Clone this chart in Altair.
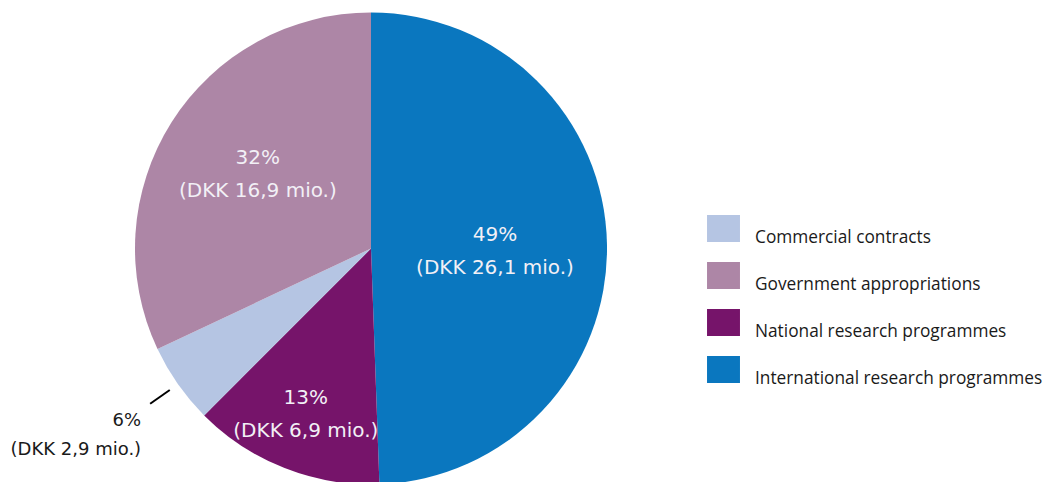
import altair as alt
import pandas as pd

# ---- data ----
categories = [
    "International research programmes",
    "National research programmes",
    "Commercial contracts",
    "Government appropriations",
]
amounts = [26.1, 6.9, 2.9, 16.9]          # DKK mio.
percent_labels = ["49%", "13%", "6%", "32%"]
amount_labels = ["DKK 26,1 mio.", "DKK 6,9 mio.", "DKK 2,9 mio.", "DKK 16,9 mio."]
legend_order = [
    "Commercial contracts",
    "Government appropriations",
    "National research programmes",
    "International research programmes",
]
legend_colors = ["#b5c5e3", "#ad86a6", "#76146a", "#0a77bf"]

# ---- layout constants (not data) ----
CX, CY, R = 371, 248.5, 236
label_radius = {
    "International research programmes": 124,
    "National research programmes": 178,
    "Commercial contracts": 270,
    "Government appropriations": 134,
}
label_nudge = {
    "International research programmes": 5,
    "National research programmes": 0,
    "Commercial contracts": 0,
    "Government appropriations": -2,
}
outside = "Commercial contracts"

df = pd.DataFrame({
    "category": categories,
    "amount": amounts,
    "order": list(range(len(categories))),
    "label": [f"{p}\n({a})" for p, a in zip(percent_labels, amount_labels)],
    "lr": [label_radius[c] for c in categories],
    "nudge": [label_nudge[c] for c in categories],
})

base = alt.Chart(df)

arcs = base.mark_arc(outerRadius=R, strokeWidth=0).encode(
    theta=alt.Theta("amount:Q", stack=True),
    order=alt.Order("order:Q"),
    color=alt.Color(
        "category:N",
        scale=alt.Scale(domain=legend_order, range=legend_colors),
        legend=alt.Legend(
            title=None,
            orient="none",
            legendX=710,
            legendY=215,
            padding=0,
            symbolType="M-1.22,-1H1.22V1H-1.22Z",
            symbolSize=729,
            symbolStrokeWidth=0,
            symbolOpacity=1,
            rowPadding=16,
            labelFont="Open Sans",
            labelFontSize=17.3,
            labelColor="#1a1a1a",
            labelBaseline="top",
            labelOffset=18,
            labelLimit=400,
        ),
    ),
    x=alt.value(CX),
    y=alt.value(CY),
)

geo = (
    base.transform_joinaggregate(total="sum(amount)")
    .transform_window(cum="sum(amount)", sort=[alt.SortField("order")])
    .transform_calculate(
        mid="(datum.cum - datum.amount / 2) / datum.total * 2 * PI",
    )
    .transform_calculate(
        lx=f"{CX} + datum.lr * sin(datum.mid)",
        ly=f"{CY} - datum.lr * cos(datum.mid) + datum.nudge",
        rx1=f"{CX} + 246 * sin(datum.mid)",
        ry1=f"{CY} - 246 * cos(datum.mid)",
        rx2=f"{CX} + 270 * sin(datum.mid)",
        ry2=f"{CY} - 270 * cos(datum.mid)",
    )
)

inside_text = geo.transform_filter(f"datum.category != '{outside}'").mark_text(
    font="DejaVu Sans",
    fontSize=20,
    lineBreak="\n",
    lineHeight=33,
    align="center",
    baseline="middle",
    dy=-16.5,
    color="#f2f0f6",
).encode(
    x=alt.X("lx:Q", scale=None),
    y=alt.Y("ly:Q", scale=None),
    text="label:N",
)

outside_text = geo.transform_filter(f"datum.category == '{outside}'").mark_text(
    font="DejaVu Sans",
    fontSize=18,
    lineBreak="\n",
    lineHeight=29,
    align="right",
    baseline="middle",
    dx=-9,
    dy=17,
    color="#1a1a1a",
).encode(
    x=alt.X("rx2:Q", scale=None),
    y=alt.Y("ry2:Q", scale=None),
    text="label:N",
)

leader = geo.transform_filter(f"datum.category == '{outside}'").mark_rule(
    color="#000000", strokeWidth=2
).encode(
    x=alt.X("rx1:Q", scale=None),
    y=alt.Y("ry1:Q", scale=None),
    x2="rx2:Q",
    y2="ry2:Q",
)

chart = (
    alt.layer(arcs, inside_text, outside_text, leader)
    .properties(width=1044, height=482, padding=0, autosize="none", background="white")
    .configure_view(stroke=None)
)

chart.save("out.html", embed_options={"renderer": "svg", "actions": False})
